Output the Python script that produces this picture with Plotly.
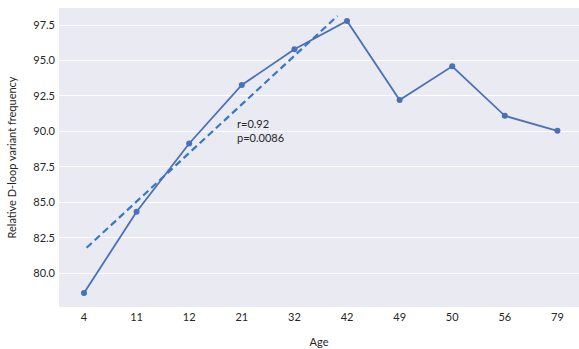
import plotly.graph_objects as go

ages = ["4", "11", "12", "21", "32", "42", "49", "50", "56", "79"]
freq = [78.61, 84.33, 89.15, 93.27, 95.79, 97.78, 92.21, 94.59, 91.10, 90.04]

# trend (dashed) line endpoints, in category-index units
trend_x = [0.05, 4.82]
trend_y = [81.80, 98.14]

annot_text = "r=0.92<br>p=0.0086"

font_family = "Lato, 'Open Sans', sans-serif"
text_color = "#262626"

idx = list(range(len(ages)))

fig = go.Figure()
fig.add_trace(go.Scatter(
    x=trend_x, y=trend_y, mode="lines",
    line=dict(color="#3a77c2", width=2.2, dash="7px,4px"),
    showlegend=False, hoverinfo="skip"))
fig.add_trace(go.Scatter(
    x=idx, y=freq, mode="lines+markers",
    line=dict(color="#4a70b5", width=1.8),
    marker=dict(color="#4a70b5", size=6),
    showlegend=False))

fig.add_annotation(
    x=2.88, y=90.07, xref="x", yref="y", text=annot_text,
    showarrow=False, xanchor="left", yanchor="middle", align="left",
    font=dict(family=font_family, size=11, color=text_color))

fig.update_layout(
    width=579, height=349,
    margin=dict(l=59, r=0, t=8, b=42),
    paper_bgcolor="white", plot_bgcolor="#EAEAF2",
    font=dict(family=font_family, size=11, color=text_color),
    xaxis=dict(
        range=[-0.475, 9.41], tickmode="array", tickvals=idx, ticktext=ages,
        showgrid=False, zeroline=False, showline=False, ticks="",
        ticklabelstandoff=2,
        title=dict(text="Age", standoff=16, font=dict(size=11)),
        tickfont=dict(size=11)),
    yaxis=dict(
        range=[77.62, 98.70], tick0=80, dtick=2.5, tickformat=".1f",
        showgrid=True, gridcolor="white", gridwidth=1, zeroline=False,
        showline=False, ticks="", ticklabelstandoff=3,
        title=dict(text="Relative D-loop variant frequency", standoff=14, font=dict(size=11)),
        tickfont=dict(size=11)),
)

fig.write_html("out.html")
